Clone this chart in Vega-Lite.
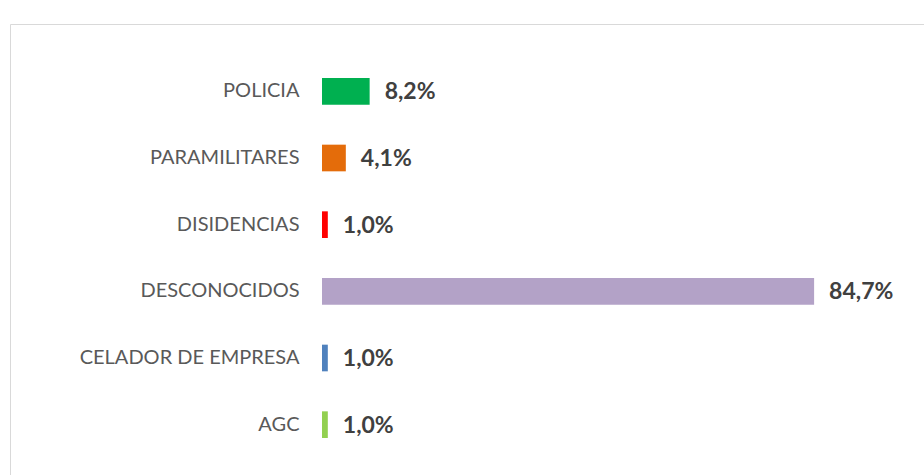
{
  "$schema": "https://vega.github.io/schema/vega-lite/v6.json",
  "autosize": {"type": "none"},
  "padding": {"left": 10, "top": 24, "right": 0, "bottom": 0},
  "width": 914,
  "height": 451,
  "background": "white",
  "config": {"view": {"stroke": "#D9D9D9", "strokeWidth": 1}},
  "data": {"values": [
    {"actor": "POLICIA", "pct": 8.2, "label": "8,2%"},
    {"actor": "PARAMILITARES", "pct": 4.1, "label": "4,1%"},
    {"actor": "DISIDENCIAS", "pct": 1.0, "label": "1,0%"},
    {"actor": "DESCONOCIDOS", "pct": 84.7, "label": "84,7%"},
    {"actor": "CELADOR DE EMPRESA", "pct": 1.0, "label": "1,0%"},
    {"actor": "AGC", "pct": 1.0, "label": "1,0%"}
  ]},
  "encoding": {
    "y": {
      "field": "actor", "type": "nominal", "sort": null, "title": null,
      "scale": {"range": [34, 434], "paddingInner": 0.6, "paddingOuter": 0.3},
      "axis": {"orient": "left", "offset": -312, "labelPadding": 23, "domain": false, "ticks": false, "grid": false,
               "labelFont": "Lato", "labelFontSize": 20, "labelColor": "#595959", "labelLimit": 400}
    },
    "x": {
      "field": "pct", "type": "quantitative", "title": null,
      "scale": {"domain": [0, 100], "range": [312, 893], "nice": false, "zero": true},
      "axis": null
    }
  },
  "layer": [
    {
      "mark": {"type": "bar", "orient": "horizontal"},
      "encoding": {
        "color": {
          "field": "actor", "type": "nominal", "legend": null,
          "scale": {
            "domain": ["POLICIA", "PARAMILITARES", "DISIDENCIAS", "DESCONOCIDOS", "CELADOR DE EMPRESA", "AGC"],
            "range": ["#00B050", "#E46C0A", "#FF0000", "#B3A2C7", "#4F81BD", "#92D050"]
          }
        }
      }
    },
    {
      "mark": {"type": "text", "align": "left", "baseline": "middle", "dx": 15, "dy": 1,
               "font": "Lato", "fontSize": 23, "fontWeight": "bold", "color": "#404040"},
      "encoding": {"text": {"field": "label"}}
    }
  ]
}
